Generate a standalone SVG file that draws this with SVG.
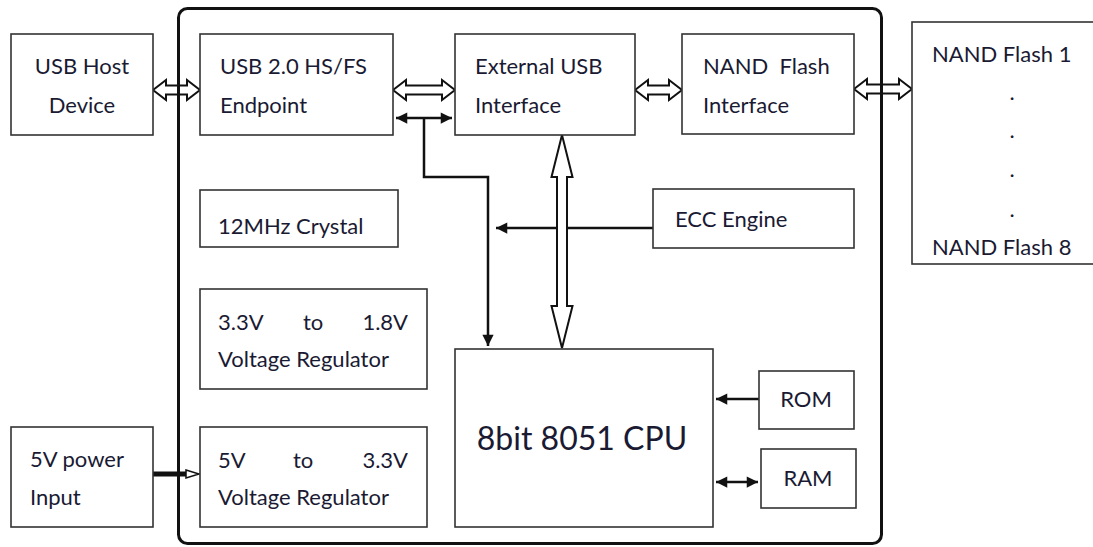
<svg xmlns="http://www.w3.org/2000/svg" width="1093" height="547" viewBox="0 0 1093 547">
<style>
.box{fill:#fff;stroke:#333;stroke-width:1.6}
.t{font-family:Lato,"Open Sans",sans-serif;font-size:22px;fill:#1a1a33}
.big{font-size:32px}
.ln{fill:none;stroke:#111;stroke-width:2.5}
.hol{fill:#fff;stroke:#111;stroke-width:2}
.frame{fill:none;stroke:#111;stroke-width:3}
</style>
<defs>
<marker id="ah" viewBox="0 0 10 10" refX="10" refY="5" markerWidth="5" markerHeight="4.5" orient="auto-start-reverse" markerUnits="strokeWidth">
<path d="M0,0L10,5L0,10z" fill="#111"/>
</marker>
</defs>
<g id="connectors">
<polygon class="hol" points="153,90 166,80 166,85.5 187,85.5 187,80 200,90 187,100 187,94.5 166,94.5 166,100"/>
<polygon class="hol" points="393,90 406,80 406,85.5 442,85.5 442,80 455,90 442,100 442,94.5 406,94.5 406,100"/>
<polygon class="hol" points="635,90 648,80 648,85.5 669,85.5 669,80 682,90 669,100 669,94.5 648,94.5 648,100"/>
<polygon class="hol" points="854,89 867,79 867,84.5 899,84.5 899,79 912,89 899,99 899,93.5 867,93.5 867,99"/>
<line class="ln" x1="396" y1="118" x2="452" y2="118" marker-start="url(#ah)" marker-end="url(#ah)"/>
<polyline class="ln" points="424,118 424,177 488,177 488,346" marker-end="url(#ah)"/>
<line class="ln" x1="653" y1="228" x2="496" y2="228" marker-end="url(#ah)"/>
<polygon class="hol" points="562,135 572.5,177 567,177 567,306 572.5,306 562,348 551.5,306 557,306 557,177 551.5,177"/>
<line x1="153" y1="474" x2="188" y2="474" stroke="#111" stroke-width="5"/>
<polygon points="186,470 199,474 186,478" fill="#fff" stroke="#111" stroke-width="1.5"/>
<line class="ln" x1="759" y1="399" x2="716" y2="399" marker-end="url(#ah)"/>
<line class="ln" x1="716" y1="482" x2="758" y2="482" marker-start="url(#ah)" marker-end="url(#ah)"/>
</g>
<g id="frame">
<rect class="frame" x="178.5" y="8.5" width="703" height="535" rx="9"/>
</g>
<g id="usb-host">
<rect class="box" x="11" y="34" width="142" height="101"/>
<text class="t" x="82" y="74" text-anchor="middle">USB Host</text>
<text class="t" x="82" y="113" text-anchor="middle">Device</text>
</g>
<g id="usb-endpoint">
<rect class="box" x="200" y="34" width="193" height="101"/>
<text class="t" x="220" y="74">USB 2.0 HS/FS</text>
<text class="t" x="220" y="113">Endpoint</text>
</g>
<g id="ext-usb">
<rect class="box" x="455" y="34" width="180" height="101"/>
<text class="t" x="475" y="74">External USB</text>
<text class="t" x="475" y="113">Interface</text>
</g>
<g id="nand-if">
<rect class="box" x="682" y="34" width="172" height="100"/>
<text class="t" x="703" y="74" xml:space="preserve">NAND  Flash</text>
<text class="t" x="703" y="113">Interface</text>
</g>
<g id="nand-flash">
<rect class="box" x="912" y="22" width="190" height="242"/>
<text class="t" x="932" y="62">NAND Flash 1</text>
<text class="t" x="1012" y="100" text-anchor="middle">.</text>
<text class="t" x="1012" y="138" text-anchor="middle">.</text>
<text class="t" x="1012" y="177" text-anchor="middle">.</text>
<text class="t" x="1012" y="217" text-anchor="middle">.</text>
<text class="t" x="932" y="255">NAND Flash 8</text>
</g>
<g id="crystal">
<rect class="box" x="200" y="190" width="198" height="57"/>
<text class="t" x="218" y="234">12MHz Crystal</text>
</g>
<g id="ecc">
<rect class="box" x="653" y="189" width="201" height="59"/>
<text class="t" x="675" y="227">ECC Engine</text>
</g>
<g id="reg18">
<rect class="box" x="200" y="289" width="227" height="100"/>
<text class="t" x="218" y="330">3.3V</text>
<text class="t" x="303" y="330">to</text>
<text class="t" x="408" y="330" text-anchor="end">1.8V</text>
<text class="t" x="218" y="367">Voltage Regulator</text>
</g>
<g id="reg33">
<rect class="box" x="200" y="427" width="227" height="100"/>
<text class="t" x="218" y="468">5V</text>
<text class="t" x="293" y="468">to</text>
<text class="t" x="408" y="468" text-anchor="end">3.3V</text>
<text class="t" x="218" y="505">Voltage Regulator</text>
</g>
<g id="power-in">
<rect class="box" x="11" y="427" width="142" height="100"/>
<text class="t" x="30" y="467">5V power</text>
<text class="t" x="30" y="505">Input</text>
</g>
<g id="cpu">
<rect class="box" x="455" y="349" width="258" height="178"/>
<text class="t big" x="582" y="450" text-anchor="middle">8bit 8051 CPU</text>
</g>
<g id="rom">
<rect class="box" x="759" y="371" width="95" height="58"/>
<text class="t" x="806" y="407" text-anchor="middle">ROM</text>
</g>
<g id="ram">
<rect class="box" x="761" y="449" width="95" height="59"/>
<text class="t" x="808" y="486" text-anchor="middle">RAM</text>
</g>
</svg>
